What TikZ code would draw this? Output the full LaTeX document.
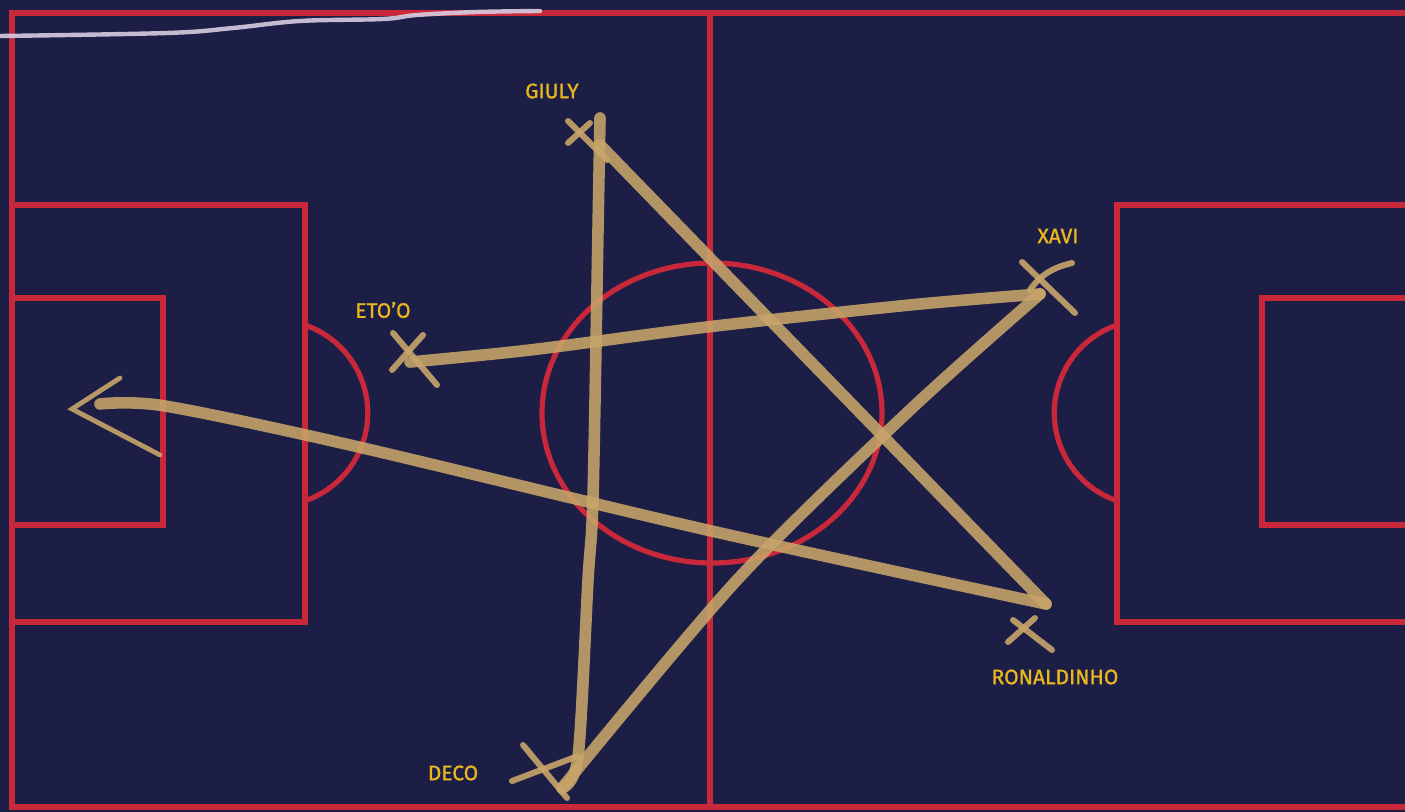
\documentclass[tikz,border=0pt]{standalone}
\usepackage{fontspec}
\setmainfont{Fira Sans}
\definecolor{navy}{RGB}{28,30,70}
\definecolor{pitchred}{RGB}{200,40,58}
\definecolor{chalkc}{RGB}{200,165,105}
\definecolor{labelc}{RGB}{232,182,30}
\definecolor{whitechalk}{RGB}{215,205,225}
\tikzset{
  pline/.style={draw=pitchred, line width=2.6pt},
  chalk/.style={draw=chalkc, line width=5.8pt, line cap=round, line join=round, opacity=0.88},
  crossstroke/.style={draw=chalkc, line width=3pt, line cap=round, opacity=0.9},
  arrowstroke/.style={draw=chalkc, line width=2.4pt, line cap=round, opacity=0.9},
  player/.style={text=labelc, font=\fontsize{10.5}{12}\selectfont\addfontfeature{FakeBold=1.2}, inner sep=0pt},
}
\begin{document}
\begin{tikzpicture}[x=0.5pt, y=-0.5pt]
\fill[navy] (0,0) rectangle (1405,812);
\useasboundingbox (0,0) rectangle (1405,812);
% pitch
\draw[pline] (1405,13) -- (12,13) -- (12,807) -- (1405,807);
\draw[pline] (710,13) -- (710,807);
\draw[pline] (712,413) ellipse [x radius=170, y radius=150];
\draw[pline] (12,205) rectangle (305,622);
\draw[pline] (12,298) rectangle (163,525);
\draw[pline] (305,325) arc[start angle=-71, end angle=71, radius=93];
\draw[pline] (1405,205) -- (1117,205) -- (1117,622) -- (1405,622);
\draw[pline] (1405,298) -- (1262,298) -- (1262,525) -- (1405,525);
\draw[pline] (1117,325) arc[start angle=251, end angle=109, radius=93];
% white chalk line top-left
\draw[draw=whitechalk, line width=2.2pt, line cap=round, opacity=0.9]
  plot[smooth, tension=0.6] coordinates {(0,36) (167,33) (233,28) (300,21) (383,19) (417,15) (477,12) (540,11)};
% player positions
\coordinate (eto) at (410,362);
\coordinate (xavi) at (1040,294);
\coordinate (deco) at (562,788);
\coordinate (giuly) at (600,118);
\coordinate (ronaldinho) at (1046,604);
\coordinate (tip) at (72,409);
\coordinate (shaft) at (100,404);
% star path
\draw[chalk] plot[smooth, tension=0.5] coordinates {(eto) (530,350) (707,327) (910,305) (xavi)};
\draw[chalk] plot[smooth, tension=0.5] coordinates {(xavi) (910,410) (737,580) (deco)};
\draw[chalk] plot[smooth, tension=0.5] coordinates {(deco) (578,757) (588,580) (593,497) (598,230) (giuly)};
\draw[chalk] (600,145) -- (ronaldinho);
\draw[chalk] plot[smooth, tension=0.5] coordinates {(ronaldinho) (707,530) (350,445) (165,406) (shaft)};
% arrow head
\draw[arrowstroke] (120,378) -- (tip) -- (160,455);
% crosses
\draw[crossstroke] (568,121) -- (607,160);
\draw[crossstroke] (590,123) -- (568,143);
\draw[crossstroke] (393,333) -- (437,385);
\draw[crossstroke] (423,335) -- (392,370);
\draw[crossstroke] (1022,262) -- (1075,313);
\draw[crossstroke] (1072,263) .. controls (1050,268) and (1038,278) .. (1030,290);
\draw[crossstroke] (1013,620) -- (1052,650);
\draw[crossstroke] (1008,642) -- (1035,618);
\draw[crossstroke] (523,745) -- (567,798);
\draw[crossstroke] (512,781) -- (578,756);
% labels
\node[player] (lgiuly) at (552,91) {GIULY};
\node[player] (leto) at (383,310) {ETO’O};
\node[player] (lxavi) at (1058,236) {XAVI};
\node[player] (lronaldinho) at (1055,677) {RONALDINHO};
\node[player] (ldeco) at (453,773) {DECO};
\end{tikzpicture}
\end{document}
